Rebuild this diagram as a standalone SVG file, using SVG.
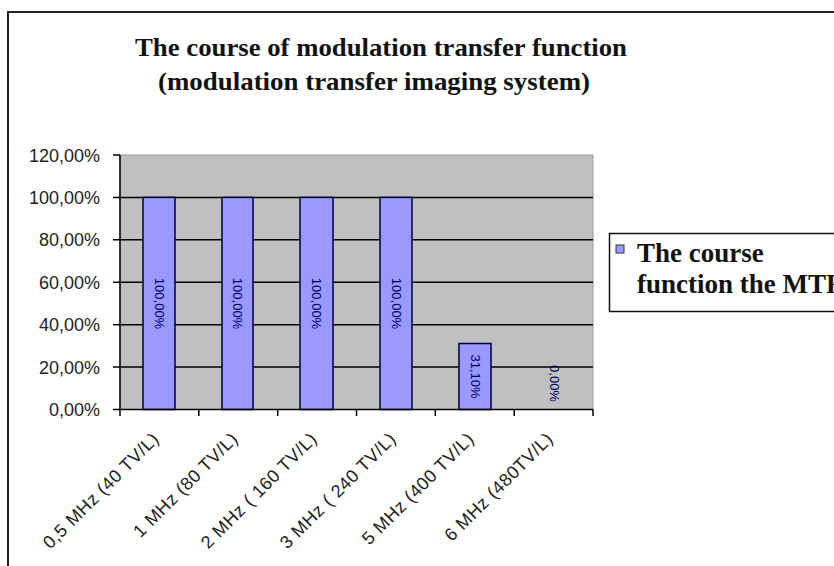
<svg xmlns="http://www.w3.org/2000/svg" width="834" height="566" viewBox="0 0 834 566">
  <style>
    .title { font-family: "Liberation Serif", "Times New Roman", serif; font-weight: bold; font-size: 25px; fill: #111; text-anchor: middle; }
    .ylab { font-family: "Liberation Sans", Arial, sans-serif; font-size: 18px; fill: #222; text-anchor: end; }
    .xlab { font-family: "Liberation Sans", Arial, sans-serif; font-size: 18px; fill: #222; text-anchor: end; letter-spacing: 0.5px; }
    .bar { fill: #9999FF; stroke: #000033; stroke-width: 1.5; }
    .val { font-family: "Liberation Sans", Arial, sans-serif; font-size: 13px; fill: #000066; text-anchor: middle; }
    .grid { stroke: #000; stroke-width: 1.5; }
    .axis { stroke: #000; stroke-width: 1.5; fill: none; }
    .legtext { font-family: "Liberation Serif", "Times New Roman", serif; font-weight: bold; font-size: 27px; fill: #111; }
  </style>

  <rect width="834" height="566" fill="#fff"/>

  <!-- chart frame (runs past the right and bottom edges) -->
  <rect x="8" y="12" width="840" height="570" fill="none" stroke="#222" stroke-width="2"/>

  <!-- title -->
  <g id="title">
    <text class="title" x="381" y="56" textLength="492" lengthAdjust="spacingAndGlyphs">The course of modulation transfer function</text>
    <text class="title" x="374" y="90" textLength="432" lengthAdjust="spacingAndGlyphs">(modulation transfer imaging system)</text>
  </g>

  <!-- plot area with gridlines -->
  <g id="plot">
    <rect x="120" y="155" width="473" height="254.5" fill="#C0C0C0" stroke="#999" stroke-width="1"/>
    <line class="grid" x1="120" y1="197.4" x2="593" y2="197.4"/>
    <line class="grid" x1="120" y1="239.8" x2="593" y2="239.8"/>
    <line class="grid" x1="120" y1="282.3" x2="593" y2="282.3"/>
    <line class="grid" x1="120" y1="324.7" x2="593" y2="324.7"/>
    <line class="grid" x1="120" y1="367.1" x2="593" y2="367.1"/>
  </g>

  <!-- bars with value labels -->
  <g id="bar-05mhz">
    <rect class="bar" x="143" y="197.4" width="32" height="212.1"/>
    <text class="val" transform="translate(154.5,303.5) rotate(90)">100,00%</text>
  </g>
  <g id="bar-1mhz">
    <rect class="bar" x="222" y="197.4" width="31" height="212.1"/>
    <text class="val" transform="translate(233,303.5) rotate(90)">100,00%</text>
  </g>
  <g id="bar-2mhz">
    <rect class="bar" x="300" y="197.4" width="33" height="212.1"/>
    <text class="val" transform="translate(312,303.5) rotate(90)">100,00%</text>
  </g>
  <g id="bar-3mhz">
    <rect class="bar" x="380" y="197.4" width="32" height="212.1"/>
    <text class="val" transform="translate(391.5,303.5) rotate(90)">100,00%</text>
  </g>
  <g id="bar-5mhz">
    <rect class="bar" x="459" y="343.5" width="32" height="66"/>
    <text class="val" transform="translate(470.5,376.5) rotate(90)">31,10%</text>
  </g>
  <g id="bar-6mhz">
    <text class="val" transform="translate(549.5,383.5) rotate(90)">0,00%</text>
  </g>

  <!-- axes and tick marks -->
  <g id="axes">
    <line class="axis" x1="120" y1="155" x2="120" y2="409.5"/>
    <line class="axis" x1="113" y1="409.5" x2="593" y2="409.5"/>
    <path class="axis" d="M113 155H120M113 197.4H120M113 239.8H120M113 282.3H120M113 324.7H120M113 367.1H120"/>
    <path class="axis" d="M120 409.5V416M198.8 409.5V416M277.7 409.5V416M356.5 409.5V416M435.3 409.5V416M514.2 409.5V416M593 409.5V416"/>
  </g>

  <!-- value axis labels -->
  <g id="y-labels">
    <text class="ylab" x="100" y="161.5">120,00%</text>
    <text class="ylab" x="100" y="203.9">100,00%</text>
    <text class="ylab" x="100" y="246.3">80,00%</text>
    <text class="ylab" x="100" y="288.8">60,00%</text>
    <text class="ylab" x="100" y="331.2">40,00%</text>
    <text class="ylab" x="100" y="373.6">20,00%</text>
    <text class="ylab" x="100" y="416">0,00%</text>
  </g>

  <!-- category axis labels -->
  <g id="x-labels">
    <text class="xlab" transform="translate(160,440) rotate(-45)">0,5 MHz (40 TV/L)</text>
    <text class="xlab" transform="translate(239,440) rotate(-45)">1 MHz (80 TV/L)</text>
    <text class="xlab" transform="translate(318,440) rotate(-45)">2 MHz ( 160 TV/L)</text>
    <text class="xlab" transform="translate(397,440) rotate(-45)">3 MHz ( 240 TV/L)</text>
    <text class="xlab" transform="translate(475,440) rotate(-45)">5 MHz (400 TV/L)</text>
    <text class="xlab" transform="translate(554,440) rotate(-45)">6 MHz (480TV/L)</text>
  </g>

  <!-- legend -->
  <g id="legend">
    <rect x="609.5" y="233.5" width="240" height="78" fill="#fff" stroke="#111" stroke-width="1.5"/>
    <rect x="616" y="245" width="8" height="8" fill="#9999FF" stroke="#333" stroke-width="1"/>
    <text class="legtext" x="637" y="262">The course</text>
    <text class="legtext" x="637" y="293">function the MTF</text>
  </g>
</svg>
